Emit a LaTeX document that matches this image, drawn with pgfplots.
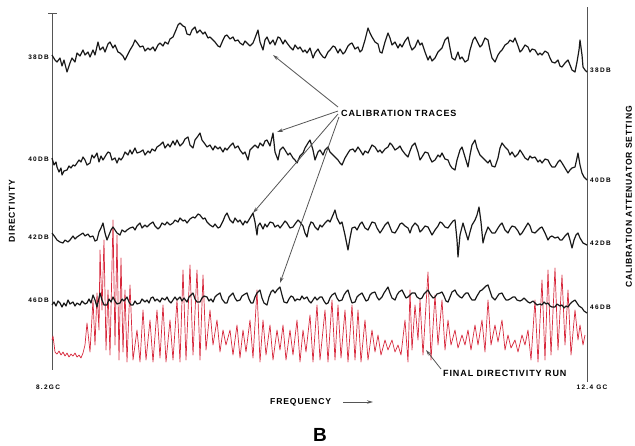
\documentclass[border=0pt]{standalone}
\usepackage{pgfplots}
\pgfplotsset{compat=1.18}
\usepackage{fontspec}
\setmainfont{Liberation Sans}
\newfontfamily\lab[LetterSpace=10]{Liberation Sans}
\newfontfamily\labs[LetterSpace=20]{Liberation Sans}
\usetikzlibrary{arrows.meta}
\definecolor{trace}{RGB}{25,25,25}
\definecolor{redrun}{RGB}{215,40,60}
\definecolor{frame}{RGB}{85,85,85}
\begin{document}
\begin{tikzpicture}
\begin{axis}[at={(0,0)},anchor=south west,scale only axis,width=635pt,height=445pt,
  xmin=0,xmax=635,ymin=0,ymax=445,y dir=reverse,hide axis,clip=false]
% frame lines
\addplot[frame,line width=1pt] coordinates {(52,13) (52,370)};
\addplot[frame,line width=1pt] coordinates {(48,13) (57,13)};
\addplot[frame,line width=1pt] coordinates {(587,7) (587,382)};
% red final directivity run
\addplot[redrun,line width=0.7pt,line join=round] coordinates {
(52,340) (53,336) (55,352) (57,354) (59,351) (61,355) (63,352) (65,356) (67,353) (69,357) (71,354) (73,356) (75,353) (77,357) (79,355) (81,358) (83,353) (85,345)
(87,323) (90,352) (93,300) (95,345) (97,293) (99,330) (100,250) (102,310) (104,240) (106,350) (108,290) (110,355) (113,220) (115,345) (117,235) (119,360) (121,258) (123,352) (125,290) (127,362) (130,285) (133,360) (137,330) (140,362) (143,310) (146,360) (150,320) (153,362) (157,310) (160,358) (163,305) (166,362) (170,320) (173,360) (177,300) (180,362) (183,270) (186,360) (190,265) (193,355) (197,270) (200,360) (203,275) (206,350) (210,310) (213,345) (217,320) (220,352) (223,330) (226,345) (230,330) (233,355) (237,325) (240,358) (243,330) (246,352) (250,320) (253,358) (257,290) (260,362) (263,320) (266,355) (270,325) (273,360) (277,330) (280,350) (283,325) (286,360) (290,330) (293,355) (297,320) (300,362) (303,330) (306,352) (310,315) (313,362) (317,305) (320,360) (325,310) (328,362) (332,300) (335,360) (338,305) (341,358) (345,310) (348,362) (352,305) (355,360) (358,310) (361,362) (365,320) (368,360) (372,330) (375,352) (378,335) (381,355) (385,340) (388,350) (392,340) (395,352) (398,345) (401,355) (405,320) (408,362) (410,290) (412,350) (415,305) (418,340) (420,300) (423,355) (428,272) (431,360) (435,295) (438,345) (442,300) (445,350) (448,320) (451,345) (455,330) (458,348) (462,335) (465,345) (468,330) (471,350) (475,325) (478,345) (482,320) (485,352) (488,300) (491,345) (495,325) (498,342) (502,320) (505,350) (508,335) (511,348) (515,340) (518,352) (522,335) (525,345) (528,330) (531,360) (535,300) (538,362) (542,280) (545,360) (548,270) (551,355) (555,268) (558,350) (562,275) (565,345) (568,290) (571,355) (575,310) (578,340) (580,325) (583,345) (585,335)
};
% 38 DB trace
\addplot[trace,line width=1.2pt,line join=round] coordinates {
(52,55) (55,60) (57,62) (60,58) (62,66) (64,60) (67,72) (70,63) (72,58) (75,62) (77,53) (80,56) (83,50) (85,55) (88,52) (90,57) (93,50) (95,55) (98,42) (100,50) (103,47) (105,52) (108,44) (110,42) (113,48) (115,45) (118,52) (120,53) (123,56) (125,60) (128,54) (130,50) (133,45) (135,40) (138,44) (140,47) (143,46) (145,51) (148,48) (150,50) (153,47) (155,51) (158,45) (160,43) (163,46) (165,42) (168,44) (170,39) (173,37) (176,30) (178,25) (180,23) (183,26) (185,27) (187,34) (190,35) (192,30) (195,27) (197,33) (200,30) (203,34) (205,32) (208,38) (210,37) (213,40) (215,42) (218,46) (220,47) (223,40) (225,36) (227,35) (230,39) (233,37) (235,41) (238,40) (240,43) (243,45) (245,41) (247,43) (250,46) (253,43) (255,38) (258,30) (260,42) (263,50) (265,40) (267,37) (270,44) (273,40) (275,45) (278,37) (280,38) (283,44) (285,40) (287,43) (290,47) (293,50) (295,45) (298,49) (300,47) (303,52) (305,50) (307,53) (310,48) (313,58) (315,53) (318,49) (320,53) (323,57) (325,58) (328,52) (330,50) (333,46) (335,47) (338,53) (340,49) (343,54) (345,52) (348,46) (350,44) (352,43) (355,49) (358,47) (360,52) (362,50) (365,40) (368,28) (370,33) (372,37) (375,42) (378,44) (380,52) (382,53) (385,42) (388,33) (390,38) (392,45) (395,42) (398,48) (400,44) (402,47) (405,41) (408,37) (410,45) (412,50) (415,47) (418,40) (420,45) (422,43) (425,52) (428,60) (430,56) (432,61) (435,58) (438,52) (440,50) (442,48) (445,40) (448,37) (450,48) (452,58) (455,60) (458,52) (460,59) (462,57) (465,62) (468,60) (470,50) (473,40) (475,37) (478,43) (480,47) (482,45) (485,38) (488,40) (490,50) (492,58) (495,62) (498,55) (500,52) (502,50) (505,45) (508,43) (510,40) (513,42) (515,38) (518,46) (520,52) (522,50) (525,45) (528,47) (530,52) (532,49) (535,50) (538,55) (540,53) (542,55) (545,51) (548,53) (550,58) (552,62) (555,63) (558,60) (560,66) (562,67) (565,63) (568,60) (570,65) (572,70) (575,72) (577,62) (579,50) (580,40) (582,55) (583,67) (585,70) (587,72)
};
% 40 DB trace
\addplot[trace,line width=1.2pt,line join=round] coordinates {
(52,158) (54,165) (56,162) (57,167) (59,172) (61,168) (62,175) (64,171) (67,170) (69,166) (71,168) (73,165) (75,166) (77,163) (79,160) (81,162) (83,157) (85,160) (87,165) (90,163) (92,155) (94,158) (97,153) (99,162) (101,156) (103,160) (106,155) (108,152) (110,153) (112,160) (115,158) (117,163) (119,158) (121,160) (123,157) (125,152) (128,155) (130,150) (132,154) (135,148) (137,153) (140,152) (143,150) (145,155) (148,151) (150,153) (152,149) (155,151) (157,147) (160,145) (163,142) (165,148) (168,144) (170,147) (173,141) (175,145) (177,140) (180,146) (183,143) (185,139) (188,137) (190,145) (193,148) (195,140) (198,136) (200,133) (202,140) (205,144) (207,147) (210,145) (213,150) (215,146) (218,149) (220,147) (223,152) (225,148) (227,150) (230,146) (233,143) (235,148) (238,146) (240,150) (243,154) (245,152) (248,160) (250,150) (253,147) (255,145) (258,148) (260,143) (263,146) (265,141) (267,140) (270,146) (273,133) (275,152) (278,160) (280,150) (283,147) (285,150) (288,155) (290,153) (293,158) (295,160) (297,163) (300,156) (303,153) (305,148) (308,143) (310,140) (313,150) (315,160) (318,152) (320,150) (323,155) (325,150) (328,147) (330,152) (333,155) (335,157) (338,160) (340,163) (342,165) (345,158) (348,153) (350,150) (353,149) (355,152) (358,147) (360,150) (363,155) (365,151) (368,153) (370,149) (372,145) (375,147) (378,152) (380,150) (382,153) (385,149) (388,147) (390,143) (392,145) (395,150) (398,148) (400,146) (402,150) (405,154) (408,157) (410,151) (412,146) (415,143) (418,152) (420,160) (422,157) (425,152) (428,153) (430,158) (432,162) (435,160) (438,155) (440,157) (442,153) (445,159) (448,160) (450,165) (452,168) (455,170) (457,160) (460,150) (462,147) (465,157) (468,167) (470,155) (472,145) (475,140) (477,148) (480,155) (482,157) (485,160) (488,163) (490,160) (492,166) (495,167) (498,158) (500,148) (502,143) (505,147) (508,150) (510,155) (512,152) (515,157) (518,154) (520,150) (522,153) (525,158) (528,160) (530,156) (532,158) (535,157) (538,162) (540,160) (542,163) (545,159) (548,160) (550,164) (552,167) (555,167) (558,162) (560,160) (562,163) (565,168) (568,173) (570,170) (572,168) (575,167) (577,158) (578,153) (580,165) (582,173) (584,177) (587,180)
};
% 42 DB trace
\addplot[trace,line width=1.2pt,line join=round] coordinates {
(52,233) (55,237) (57,240) (60,242) (63,243) (65,240) (68,242) (70,240) (73,236) (75,239) (77,237) (80,235) (83,233) (85,236) (88,234) (90,237) (93,236) (95,241) (97,240) (99,232) (101,228) (103,223) (105,233) (107,240) (109,235) (111,230) (113,227) (115,230) (117,233) (120,235) (122,230) (125,232) (127,230) (130,228) (133,227) (135,230) (137,226) (140,223) (142,228) (145,225) (147,227) (150,224) (153,222) (155,226) (158,229) (160,227) (162,223) (165,225) (167,222) (170,225) (173,223) (175,220) (178,222) (180,218) (183,221) (185,220) (187,223) (190,219) (193,217) (195,218) (198,214) (200,215) (203,219) (205,218) (207,222) (210,225) (213,227) (215,224) (218,228) (220,227) (223,221) (225,216) (227,213) (230,220) (233,223) (235,218) (238,222) (240,220) (243,225) (245,221) (247,223) (250,218) (253,213) (255,222) (257,235) (258,226) (260,223) (263,229) (265,224) (267,227) (270,222) (273,223) (275,227) (278,225) (280,228) (283,224) (285,221) (287,223) (290,228) (293,227) (295,224) (298,220) (300,222) (303,226) (305,233) (307,237) (309,227) (311,222) (313,223) (315,227) (318,230) (320,225) (322,227) (325,223) (328,220) (330,222) (333,215) (335,210) (337,218) (340,224) (342,222) (345,235) (347,245) (348,250) (350,238) (352,228) (355,227) (357,230) (360,224) (362,222) (365,228) (368,230) (370,226) (372,222) (375,223) (377,228) (380,233) (382,230) (385,225) (388,222) (390,227) (392,232) (395,233) (398,228) (400,224) (402,223) (405,226) (408,228) (410,233) (412,227) (415,223) (418,226) (420,232) (422,230) (425,226) (428,227) (430,231) (432,235) (435,230) (438,226) (440,222) (442,223) (445,227) (448,228) (450,225) (453,221) (455,220) (457,240) (458,257) (460,235) (463,223) (465,230) (468,240) (470,232) (472,225) (475,220) (477,215) (479,207) (481,222) (483,243) (485,235) (488,227) (490,230) (492,233) (495,233) (498,228) (500,225) (502,223) (505,230) (508,233) (510,229) (512,226) (515,227) (518,231) (520,235) (522,233) (525,228) (528,223) (530,226) (532,232) (535,233) (538,230) (540,228) (542,227) (545,233) (548,240) (550,237) (552,236) (555,238) (558,237) (560,240) (562,240) (565,236) (568,233) (570,240) (572,248) (574,240) (576,235) (578,233) (580,238) (583,243) (585,244) (587,245)
};
% 46 DB trace
\addplot[trace,line width=1.2pt,line join=round] coordinates {
(52,305) (54,302) (56,306) (58,301) (60,303) (62,307) (64,303) (66,306) (68,300) (70,304) (73,302) (75,306) (77,303) (80,305) (82,301) (85,304) (87,303) (89,299) (91,303) (93,295) (95,300) (97,307) (99,298) (100,293) (102,300) (104,305) (107,305) (109,299) (111,302) (113,297) (115,301) (117,304) (120,303) (122,299) (124,301) (127,297) (129,302) (131,305) (133,305) (135,301) (137,304) (140,303) (142,299) (145,302) (147,300) (149,303) (151,298) (153,297) (155,301) (157,299) (160,302) (162,298) (165,300) (167,297) (169,301) (171,303) (173,300) (175,297) (177,300) (180,297) (182,301) (184,298) (187,302) (189,297) (191,295) (193,293) (195,299) (197,302) (200,302) (202,298) (204,296) (207,297) (209,301) (211,299) (213,302) (215,297) (217,295) (220,293) (222,299) (225,303) (227,303) (229,297) (231,295) (233,293) (235,298) (237,301) (240,300) (242,296) (245,294) (247,293) (249,299) (251,303) (253,303) (255,297) (257,293) (260,290) (262,298) (264,303) (267,305) (269,297) (271,292) (273,290) (275,293) (277,290) (280,287) (282,295) (284,302) (287,303) (289,299) (291,296) (293,297) (295,301) (297,299) (300,300) (302,296) (304,299) (307,297) (309,301) (311,303) (313,300) (315,297) (317,300) (320,297) (322,297) (324,301) (326,304) (328,303) (330,298) (332,295) (335,293) (337,298) (339,301) (342,300) (344,295) (346,292) (348,290) (350,297) (352,303) (355,302) (357,297) (359,295) (362,293) (364,297) (366,301) (368,300) (370,295) (372,293) (375,292) (377,297) (379,300) (382,297) (384,293) (386,290) (388,287) (390,293) (392,298) (395,300) (397,295) (399,292) (402,290) (404,294) (406,298) (408,297) (410,295) (412,293) (415,293) (417,297) (420,299) (422,298) (424,294) (426,292) (428,290) (430,294) (433,298) (435,297) (437,294) (440,293) (442,292) (444,296) (446,301) (448,302) (450,297) (452,292) (455,290) (457,294) (460,297) (462,298) (464,295) (466,293) (468,293) (470,297) (472,300) (475,300) (477,296) (480,291) (482,290) (484,288) (486,286) (488,285) (490,291) (492,297) (495,300) (497,297) (499,294) (502,293) (504,297) (506,300) (508,300) (510,299) (513,297) (515,297) (517,300) (520,301) (522,300) (524,298) (526,300) (528,302) (530,303) (533,301) (535,303) (537,305) (540,304) (542,305) (544,302) (546,304) (548,303) (550,306) (552,307) (555,307) (557,304) (560,306) (562,305) (564,308) (566,306) (568,307) (570,304) (572,302) (575,300) (577,303) (579,306) (582,308) (584,311) (587,313)
};
% annotation arrows
\draw[frame,line width=0.8pt,-{Stealth[length=6pt,width=3.5pt]}] (axis cs:338,107) -- (axis cs:273,55);
\draw[frame,line width=0.8pt,-{Stealth[length=6pt,width=3.5pt]}] (axis cs:338,111) -- (axis cs:277,132);
\draw[frame,line width=0.8pt,-{Stealth[length=6pt,width=3.5pt]}] (axis cs:338,114) -- (axis cs:253,213);
\draw[frame,line width=0.8pt,-{Stealth[length=6pt,width=3.5pt]}] (axis cs:339,117) -- (axis cs:280,283);
\draw[frame,line width=0.8pt,-{Stealth[length=6pt,width=3.5pt]}] (axis cs:441,369) -- (axis cs:426,350);
\draw[frame,line width=0.9pt,-{Stealth[length=6pt,width=3.5pt]}] (axis cs:343,402) -- (axis cs:373,402);
% texts
\node[font=\lab\bfseries\fontsize{9}{11}\selectfont,anchor=west,inner sep=0pt] at (axis cs:341,113) {CALIBRATION TRACES};
\node[font=\lab\bfseries\fontsize{9}{11}\selectfont,anchor=west,inner sep=0pt] at (axis cs:443,373) {FINAL DIRECTIVITY RUN};
\node[font=\lab\bfseries\fontsize{8.6}{11}\selectfont,anchor=west,inner sep=0pt] at (axis cs:270,402) {FREQUENCY};
\node[font=\bfseries\fontsize{19}{21}\selectfont,inner sep=0pt] at (axis cs:320,435) {B};
\node[font=\labs\bfseries\fontsize{6.5}{8}\selectfont,anchor=east,inner sep=0pt] at (axis cs:49,57) {38DB};
\node[font=\labs\bfseries\fontsize{6.5}{8}\selectfont,anchor=east,inner sep=0pt] at (axis cs:49,159) {40DB};
\node[font=\labs\bfseries\fontsize{6.5}{8}\selectfont,anchor=east,inner sep=0pt] at (axis cs:49,237) {42DB};
\node[font=\labs\bfseries\fontsize{6.5}{8}\selectfont,anchor=east,inner sep=0pt] at (axis cs:49,300) {46DB};
\node[font=\labs\bfseries\fontsize{6.5}{8}\selectfont,anchor=west,inner sep=0pt] at (axis cs:590,70) {38DB};
\node[font=\labs\bfseries\fontsize{6.5}{8}\selectfont,anchor=west,inner sep=0pt] at (axis cs:590,180) {40DB};
\node[font=\labs\bfseries\fontsize{6.5}{8}\selectfont,anchor=west,inner sep=0pt] at (axis cs:590,243) {42DB};
\node[font=\labs\bfseries\fontsize{6.5}{8}\selectfont,anchor=west,inner sep=0pt] at (axis cs:590,307) {46DB};
\node[font=\labs\bfseries\fontsize{6.5}{8}\selectfont,inner sep=0pt] at (axis cs:48,387) {8.2GC};
\node[font=\labs\bfseries\fontsize{6.5}{8}\selectfont,inner sep=0pt] at (axis cs:592,387) {12.4 GC};
\node[font=\lab\bfseries\fontsize{8.6}{11}\selectfont,rotate=90,inner sep=0pt] at (axis cs:12,211) {DIRECTIVITY};
\node[font=\lab\bfseries\fontsize{8.6}{11}\selectfont,rotate=90,inner sep=0pt] at (axis cs:629,197) {CALIBRATION ATTENUATOR SETTING};
\end{axis}
\pgfresetboundingbox
\path (0,0) rectangle (635pt,445pt);
\end{tikzpicture}
\end{document}
